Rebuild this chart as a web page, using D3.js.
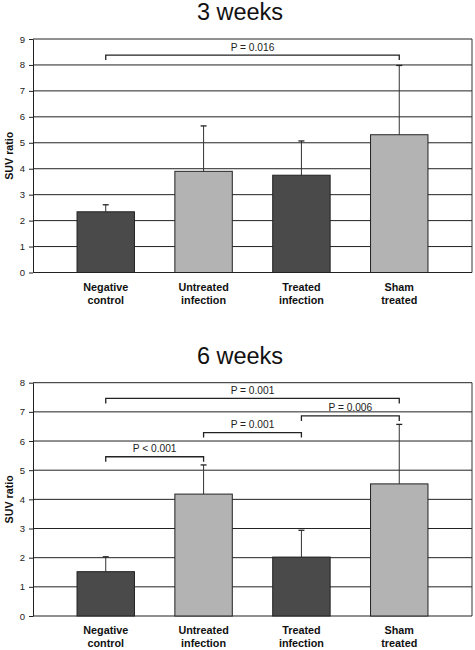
<!DOCTYPE html>
<html><head><meta charset="utf-8">
<script src="https://cdn.jsdelivr.net/npm/d3@7"></script>
<style>body{margin:0;background:#fff}svg{display:block}text{font-family:"Liberation Sans",Arial,sans-serif}</style>
</head><body>
<script>
const categories = [["Negative","control"],["Untreated","infection"],["Treated","infection"],["Sham","treated"]];
const barColors = ["#4a4a4a","#b3b3b3","#4a4a4a","#b3b3b3"];
const titles = ["3 weeks","6 weeks"];
const means3 = [2.34, 3.90, 3.75, 5.31];
const errTop3 = [2.61, 5.65, 5.07, 7.98];
const means6 = [1.52, 4.18, 2.02, 4.53];
const errTop6 = [2.03, 5.18, 2.94, 6.57];
const yMax = [9, 8];
// brackets: [from index, to index, level, label]
const brackets3 = [[0,3,8.38,"P = 0.016"]];
const brackets6 = [[0,3,7.46,"P = 0.001"],[2,3,6.86,"P = 0.006"],[1,2,6.29,"P = 0.001"],[0,1,5.46,"P < 0.001"]];

const svg = d3.select("body").append("svg").attr("width",475).attr("height",650);

const panels = [
  {title:titles[0], means:means3, err:errTop3, max:yMax[0], brackets:brackets3, top:39, bottom:272.5, titleY:20},
  {title:titles[1], means:means6, err:errTop6, max:yMax[1], brackets:brackets6, top:382.7, bottom:616, titleY:364}
];

const x = d3.scaleBand().domain(d3.range(categories.length)).range([33,472]).paddingInner(0.413).paddingOuter(0.45);

panels.forEach(p=>{
  const g = svg.append("g");
  const y = d3.scaleLinear().domain([0,p.max]).range([p.bottom,p.top]);
  g.append("text").attr("x",240).attr("y",p.titleY).attr("text-anchor","middle")
    .attr("font-size",23.5).attr("fill","#111").text(p.title);
  // gridlines
  g.selectAll("line.grid").data(d3.range(1,p.max+1)).join("line")
    .attr("x1",33).attr("x2",472).attr("y1",d=>y(d)).attr("y2",d=>y(d))
    .attr("stroke","#222").attr("stroke-width",1);
  // right border
  g.append("line").attr("x1",472).attr("x2",472).attr("y1",y(p.max)).attr("y2",y(0)).attr("stroke","#333").attr("stroke-width",1);
  // y axis
  const ax = g.append("g").attr("transform","translate(33,0)")
    .call(d3.axisLeft(y).ticks(p.max).tickSize(4).tickPadding(4).tickSizeOuter(0));
  ax.select(".domain").attr("stroke","#222");
  ax.selectAll(".tick line").attr("stroke","#222");
  ax.selectAll("text").attr("font-size",9.5).attr("fill","#222").style("font-family","Liberation Sans, Arial, sans-serif");
  // x axis baseline
  g.append("line").attr("x1",33).attr("x2",472).attr("y1",y(0)).attr("y2",y(0)).attr("stroke","#222").attr("stroke-width",1.2);
  // error bars
  p.means.forEach((m,i)=>{
    const cx = x(i)+x.bandwidth()/2;
    g.append("line").attr("x1",cx).attr("x2",cx).attr("y1",y(m)).attr("y2",y(p.err[i])).attr("stroke","#333").attr("stroke-width",1);
    g.append("line").attr("x1",cx-3).attr("x2",cx+3).attr("y1",y(p.err[i])).attr("y2",y(p.err[i])).attr("stroke","#222").attr("stroke-width",1.3);
  });
  // bars
  g.selectAll("rect.bar").data(p.means).join("rect")
    .attr("x",(d,i)=>x(i)).attr("width",x.bandwidth())
    .attr("y",d=>y(d)).attr("height",d=>y(0)-y(d))
    .attr("fill",(d,i)=>barColors[i]).attr("stroke","#222").attr("stroke-width",1);
  // x labels
  categories.forEach((c,i)=>{
    const cx = x(i)+x.bandwidth()/2;
    c.forEach((line,k)=>{
      g.append("text").attr("x",cx).attr("y",y(0)+18+k*13).attr("text-anchor","middle")
        .attr("font-size",10.8).attr("font-weight","bold").attr("fill","#111").text(line);
    });
  });
  // y title
  g.append("text").attr("transform",`translate(13,${(p.top+p.bottom)/2}) rotate(-90)`)
    .attr("text-anchor","middle").attr("font-size",10.7).attr("font-weight","bold").attr("fill","#111").text("SUV ratio");
  // brackets
  p.brackets.forEach(([a,b,lv,label])=>{
    const x1 = x(a)+x.bandwidth()/2, x2 = x(b)+x.bandwidth()/2, yy = y(lv);
    g.append("path").attr("d",`M${x1},${yy+5}V${yy}H${x2}V${yy+5}`).attr("fill","none").attr("stroke","#222").attr("stroke-width",1.3);
    g.append("text").attr("x",(x1+x2)/2).attr("y",yy-4.5).attr("text-anchor","middle").attr("font-size",10.2).attr("fill","#222").text(label);
  });
});
</script>
</body></html>
